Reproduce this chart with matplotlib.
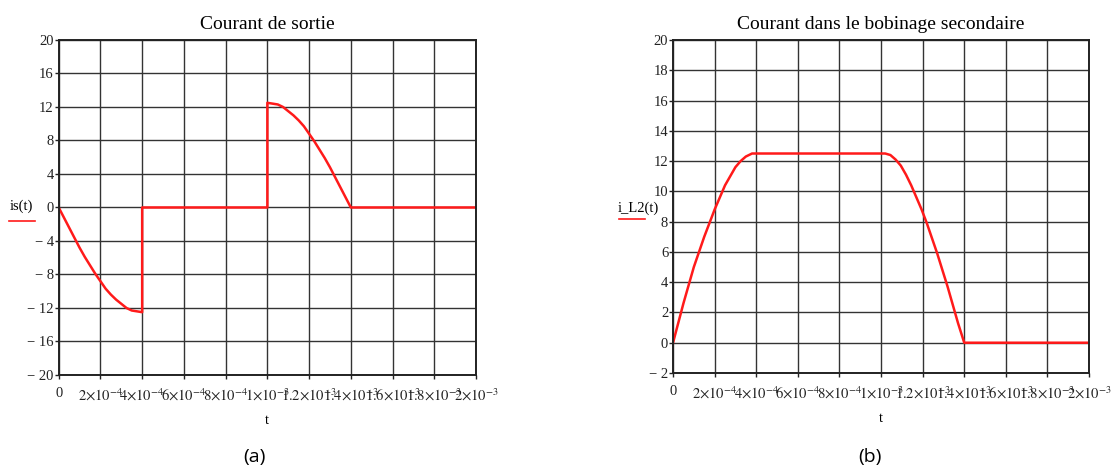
import matplotlib
matplotlib.use('Agg')
import matplotlib.pyplot as plt

plt.rcParams['font.family'] = ['Liberation Serif', 'DejaVu Serif']
plt.rcParams['mathtext.fontset'] = 'stix'

# Output current is(t) (t in s, value in A)
t_is = [0, 0.25e-4, 0.5e-4, 0.75e-4, 1e-4, 1.25e-4, 1.5e-4, 1.75e-4, 2e-4,
        2.25e-4, 2.5e-4, 2.75e-4, 3e-4, 3.25e-4, 3.5e-4, 3.75e-4, 4e-4,
        4e-4, 1e-3,
        1e-3, 1.025e-3, 1.05e-3, 1.075e-3, 1.1e-3, 1.125e-3, 1.15e-3, 1.175e-3, 1.2e-3,
        1.225e-3, 1.25e-3, 1.275e-3, 1.3e-3, 1.325e-3, 1.35e-3, 1.375e-3, 1.4e-3,
        2e-3]
v_is = [0, -1.2, -2.4, -3.6, -4.8, -5.9, -6.9, -7.9, -8.8,
        -9.7, -10.4, -11.0, -11.5, -12.0, -12.3, -12.4, -12.5,
        0, 0,
        12.5, 12.4, 12.3, 12.0, 11.5, 11.0, 10.4, 9.7, 8.8,
        7.9, 6.9, 5.9, 4.8, 3.6, 2.4, 1.2, 0,
        0]

# Secondary winding current i_L2(t)
t_il2 = [0, 0.25e-4, 0.5e-4, 0.75e-4, 1e-4, 1.25e-4, 1.5e-4, 1.75e-4, 2e-4,
         2.25e-4, 2.5e-4, 2.75e-4, 3e-4, 3.25e-4, 3.5e-4, 3.8e-4,
         1.02e-3, 1.045e-3, 1.07e-3, 1.095e-3, 1.12e-3, 1.145e-3, 1.17e-3, 1.195e-3,
         1.22e-3, 1.245e-3, 1.27e-3, 1.295e-3, 1.32e-3, 1.345e-3, 1.37e-3, 1.4e-3,
         2e-3]
v_il2 = [0, 1.3, 2.6, 3.8, 5.0, 6.0, 7.0, 7.9, 8.8,
         9.6, 10.4, 11.0, 11.6, 12.0, 12.3, 12.5,
         12.5, 12.4, 12.1, 11.7, 11.1, 10.4, 9.6, 8.8,
         7.9, 6.9, 5.9, 4.8, 3.7, 2.5, 1.3, 0,
         0]

x_ticks = [0, 2e-4, 4e-4, 6e-4, 8e-4, 1e-3, 1.2e-3, 1.4e-3, 1.6e-3, 1.8e-3, 2e-3]
x_labels = ['0', r'$2{\times}10^{-4}$', r'$4{\times}10^{-4}$', r'$6{\times}10^{-4}$',
            r'$8{\times}10^{-4}$', r'$1{\times}10^{-3}$', r'$1.2{\times}10^{-3}$',
            r'$1.4{\times}10^{-3}$', r'$1.6{\times}10^{-3}$', r'$1.8{\times}10^{-3}$',
            r'$2{\times}10^{-3}$']
y_ticks_a = [-20, -16, -12, -8, -4, 0, 4, 8, 12, 16, 20]
y_ticks_b = [-2, 0, 2, 4, 6, 8, 10, 12, 14, 16, 18, 20]


def ylab(v):
    return '\u2212 %d' % -v if v < 0 else '%d' % v


def style_axes(ax, yticks, title):
    ax.set_xlim(0, 2e-3)
    ax.set_ylim(yticks[0], yticks[-1])
    ax.set_xticks(x_ticks)
    ax.set_xticklabels(x_labels, fontsize=10.5)
    ax.set_yticks(yticks)
    ax.set_yticklabels([ylab(v) for v in yticks], fontsize=10.5)
    ax.grid(True, color='#333333', linewidth=1.0)
    ax.set_axisbelow(True)
    for s in ax.spines.values():
        s.set_linewidth(1.4)
        s.set_color('#222222')
    ax.tick_params(axis='x', length=3, width=1, pad=6, colors='#222222')
    ax.tick_params(axis='y', length=3, width=1, pad=0.5, colors='#222222')
    ax.set_title(title, fontsize=14, pad=8)
    ax.set_xlabel('t', fontsize=10.5, labelpad=7)


fig = plt.figure(figsize=(11.18, 4.76), dpi=100)

ax1 = fig.add_axes([0.0525, 0.2122, 0.3733, 0.7038])
ax1.plot(t_is, v_is, color='#ff1a1a', linewidth=1.8)
style_axes(ax1, y_ticks_a, 'Courant de sortie')
fig.text(0.0195, 0.567, 'is(t)', fontsize=10.5, ha='center', va='center')
fig.add_artist(plt.Line2D([0.008, 0.031], [0.535, 0.535], color='#ff1a1a', linewidth=1.2))
fig.text(0.228, 0.03, '(a)', fontsize=14, family=['Open Sans', 'DejaVu Sans'], ha='center')

ax2 = fig.add_axes([0.602, 0.2164, 0.3721, 0.6996])
ax2.plot(t_il2, v_il2, color='#ff1a1a', linewidth=1.8)
style_axes(ax2, y_ticks_b, 'Courant dans le bobinage secondaire')
fig.text(0.571, 0.562, 'i_L2(t)', fontsize=10.5, ha='center', va='center')
fig.add_artist(plt.Line2D([0.554, 0.577], [0.54, 0.54], color='#ff1a1a', linewidth=1.2))
fig.text(0.778, 0.03, '(b)', fontsize=14, family=['Open Sans', 'DejaVu Sans'], ha='center')

fig.savefig('out.png', dpi=100)
